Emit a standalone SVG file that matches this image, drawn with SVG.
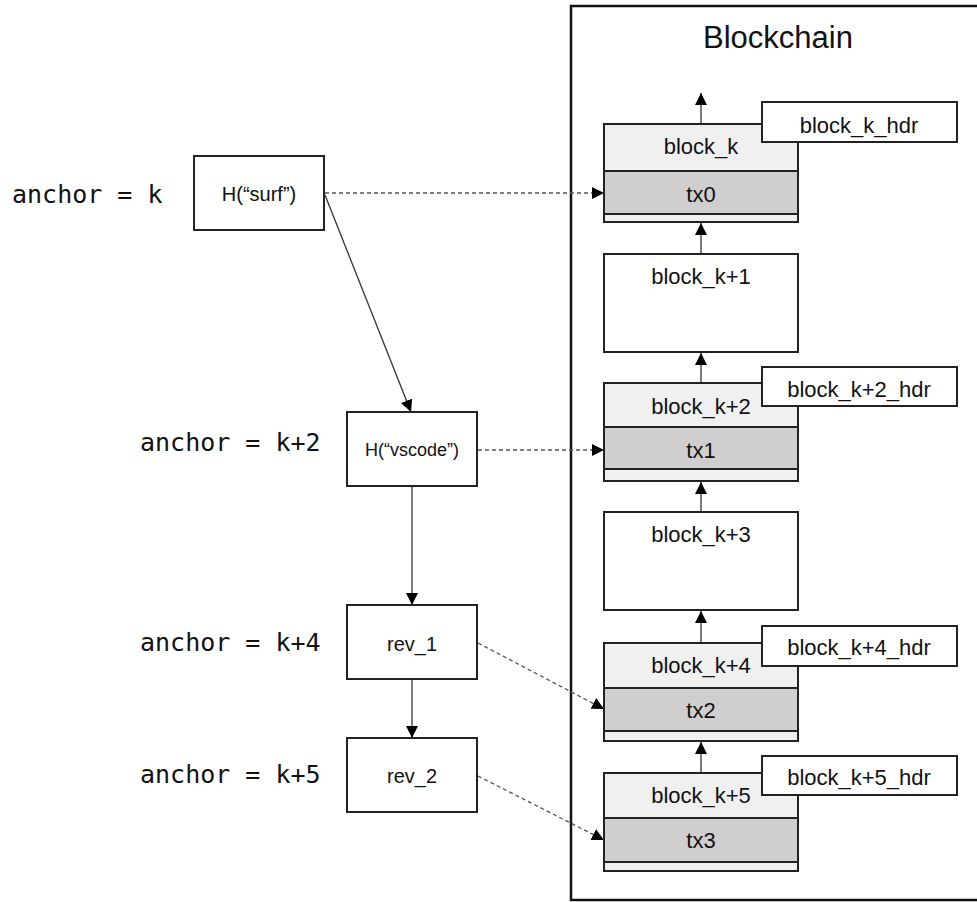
<svg xmlns="http://www.w3.org/2000/svg" width="977" height="902" viewBox="0 0 977 902">
  <defs>
    <marker id="arrow" markerUnits="userSpaceOnUse" markerWidth="12" markerHeight="12" viewBox="0 0 12 12" refX="12" refY="6" orient="auto">
      <path d="M0,0 L12,6 L0,12 z" fill="#000"/>
    </marker>
    <style>
      .box { fill: #fff; stroke: #222; stroke-width: 2; }
      .hdr { fill: #f0f0f0; stroke: #222; stroke-width: 2; }
      .tx { fill: #d0cece; stroke: #222; stroke-width: 2; }
      .frame { fill: none; stroke: #111; stroke-width: 2.5; }
      .lbl { font-family: "Liberation Sans", Arial, sans-serif; font-size: 22px; fill: #111; text-anchor: middle; }
      .small { font-family: "Liberation Sans", Arial, sans-serif; font-size: 20px; fill: #111; text-anchor: middle; }
      .title { font-family: "Liberation Sans", Arial, sans-serif; font-size: 31px; fill: #111; text-anchor: middle; }
      .anchor { font-family: "DejaVu Sans Mono", "Liberation Mono", monospace; font-size: 25px; fill: #111; }
      .solid { fill: none; stroke: #333; stroke-width: 1.3; marker-end: url(#arrow); }
      .dash { fill: none; stroke: #555; stroke-width: 1.3; stroke-dasharray: 4 3; marker-end: url(#arrow); }
    </style>
  </defs>

  <rect width="977" height="902" fill="#fff"/>

  <!-- Blockchain frame -->
  <g id="blockchain">
    <rect class="frame" x="571" y="6" width="420" height="894"/>
    <text class="title" x="778" y="48">Blockchain</text>
  </g>

  <!-- Anchor labels -->
  <g id="anchors">
    <text class="anchor" x="12" y="203">anchor = k</text>
    <text class="anchor" x="140" y="451">anchor = k+2</text>
    <text class="anchor" x="140" y="651">anchor = k+4</text>
    <text class="anchor" x="140" y="783">anchor = k+5</text>
  </g>

  <!-- Connectors -->
  <g id="connectors">
    <!-- chain links -->
    <line class="solid" x1="701" y1="124" x2="701" y2="93"/>
    <line class="solid" x1="701" y1="254" x2="701" y2="223"/>
    <line class="solid" x1="701" y1="383" x2="701" y2="353"/>
    <line class="solid" x1="701" y1="512" x2="701" y2="482"/>
    <line class="solid" x1="701" y1="643" x2="701" y2="611"/>
    <line class="solid" x1="701" y1="773" x2="701" y2="742"/>
    <!-- hash chain -->
    <line class="solid" x1="325" y1="195" x2="411" y2="412"/>
    <line class="solid" x1="412" y1="487" x2="412" y2="605"/>
    <line class="solid" x1="412" y1="680" x2="412" y2="738"/>
    <!-- anchoring transactions -->
    <line class="dash" x1="325" y1="193" x2="604" y2="193"/>
    <line class="dash" x1="478" y1="450" x2="604" y2="450"/>
    <line class="dash" x1="478" y1="643" x2="604" y2="709"/>
    <line class="dash" x1="478" y1="776" x2="604" y2="840"/>
  </g>

  <!-- Left-hand nodes -->
  <g id="h-surf">
    <rect class="box" x="194" y="156" width="130" height="74"/>
    <text class="small" x="259" y="201">H(“surf”)</text>
  </g>
  <g id="h-vscode">
    <rect class="box" x="347" y="412" width="130" height="74"/>
    <text class="small" x="412" y="456" style="font-size:18px">H(“vscode”)</text>
  </g>
  <g id="rev-1">
    <rect class="box" x="347" y="605" width="130" height="74"/>
    <text class="small" x="412" y="651">rev_1</text>
  </g>
  <g id="rev-2">
    <rect class="box" x="347" y="738" width="130" height="74"/>
    <text class="small" x="412" y="783">rev_2</text>
  </g>

  <!-- Blocks -->
  <g id="block-k">
    <rect class="hdr" x="604" y="124" width="194" height="98"/>
    <rect class="tx" x="604" y="171" width="194" height="43"/>
    <text class="lbl" x="701" y="154">block_k</text>
    <text class="lbl" x="701" y="202">tx0</text>
    <rect class="box" x="762" y="102" width="195" height="40"/>
    <text class="lbl" x="859" y="133">block_k_hdr</text>
  </g>
  <g id="block-k1">
    <rect class="box" x="604" y="254" width="194" height="98"/>
    <text class="lbl" x="701" y="284">block_k+1</text>
  </g>
  <g id="block-k2">
    <rect class="hdr" x="604" y="383" width="194" height="98"/>
    <rect class="tx" x="604" y="427" width="194" height="42"/>
    <text class="lbl" x="701" y="414">block_k+2</text>
    <text class="lbl" x="701" y="458">tx1</text>
    <rect class="box" x="762" y="367" width="195" height="39"/>
    <text class="lbl" x="859" y="397">block_k+2_hdr</text>
  </g>
  <g id="block-k3">
    <rect class="box" x="604" y="512" width="194" height="98"/>
    <text class="lbl" x="701" y="542">block_k+3</text>
  </g>
  <g id="block-k4">
    <rect class="hdr" x="604" y="643" width="194" height="98"/>
    <rect class="tx" x="604" y="688" width="194" height="43"/>
    <text class="lbl" x="701" y="673">block_k+4</text>
    <text class="lbl" x="701" y="718">tx2</text>
    <rect class="box" x="762" y="626" width="195" height="40"/>
    <text class="lbl" x="859" y="655">block_k+4_hdr</text>
  </g>
  <g id="block-k5">
    <rect class="hdr" x="604" y="773" width="194" height="98"/>
    <rect class="tx" x="604" y="818" width="194" height="44"/>
    <text class="lbl" x="701" y="803">block_k+5</text>
    <text class="lbl" x="701" y="848">tx3</text>
    <rect class="box" x="762" y="756" width="195" height="39"/>
    <text class="lbl" x="859" y="785">block_k+5_hdr</text>
  </g>
</svg>
